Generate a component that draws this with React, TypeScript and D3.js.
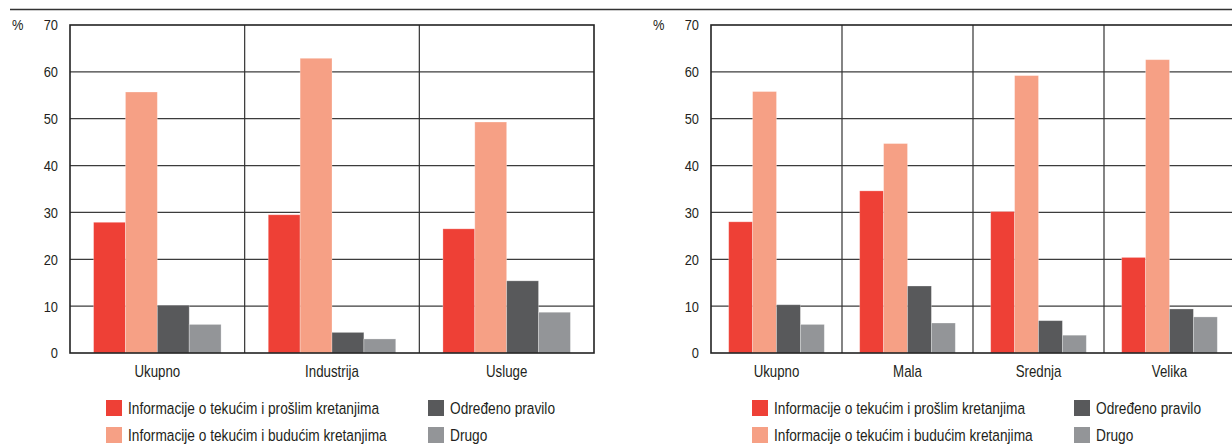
import React from "react";
import * as d3 from "d3";

// Series shown in every panel
const seriesNames = [
  "Informacije o tekućim i prošlim kretanjima",
  "Informacije o tekućim i budućim kretanjima",
  "Određeno pravilo",
  "Drugo",
];
const seriesColors = ["#EE4036", "#F6A085", "#58595B", "#939598"];

// Panel 1: by sector
const sectorCategories = ["Ukupno", "Industrija", "Usluge"];
const sectorPast = [27.9, 29.5, 26.5];
const sectorFuture = [55.7, 62.9, 49.3];
const sectorRule = [10.2, 4.4, 15.4];
const sectorOther = [6.1, 3.0, 8.7];

// Panel 2: by firm size
const sizeCategories = ["Ukupno", "Mala", "Srednja", "Velika"];
const sizePast = [28.0, 34.6, 30.2, 20.4];
const sizeFuture = [55.8, 44.7, 59.2, 62.6];
const sizeRule = [10.3, 14.3, 6.9, 9.4];
const sizeOther = [6.1, 6.4, 3.8, 7.7];

const yTicks = [0, 10, 20, 30, 40, 50, 60, 70];

const FONT = "'Liberation Sans', Arial, Helvetica, sans-serif";
const SQUEEZE = 0.83; // horizontal compression for a condensed look

type CTextProps = {
  x: number;
  y: number;
  size: number;
  anchor?: "start" | "middle" | "end";
  children: React.ReactNode;
};

// Condensed text: regular face compressed horizontally around its anchor point
function CText({ x, y, size, anchor = "start", children }: CTextProps) {
  return (
    <text
      transform={`translate(${x},${y}) scale(${SQUEEZE},1)`}
      dy="0.35em"
      textAnchor={anchor}
      fontFamily={FONT}
      fontSize={size}
      fill="#231F20"
    >
      {children}
    </text>
  );
}

type PanelProps = {
  left: number;
  groupWidth: number;
  categories: string[];
  series: number[][];
  legendX: number;
  legendCol2X: number;
};

function Panel({ left, groupWidth, categories, series, legendX, legendCol2X }: PanelProps) {
  const top = 25;
  const bottom = 353;
  const right = left + groupWidth * categories.length;
  const y = d3.scaleLinear().domain([0, 70]).range([bottom, top]);
  const x0 = d3.scaleBand<string>().domain(categories).range([left, right]).paddingInner(0).paddingOuter(0);
  const x1 = d3
    .scaleBand<number>()
    .domain(d3.range(series.length))
    .range([0, x0.bandwidth()])
    .paddingInner(0)
    .paddingOuter(0.74);

  return (
    <g>
      {/* horizontal grid */}
      {yTicks.slice(1, -1).map((t) => (
        <line key={t} x1={left} x2={right} y1={y(t)} y2={y(t)} stroke="#3c3c3c" strokeWidth={1.2} />
      ))}
      {/* group separators */}
      {categories.slice(1).map((c) => (
        <line key={c} x1={x0(c)!} x2={x0(c)!} y1={top} y2={bottom} stroke="#333" strokeWidth={1.2} />
      ))}
      {/* bars */}
      {categories.map((c, ci) => (
        <g key={c}>
          {series.map((vals, si) => (
            <rect
              key={si}
              x={x0(c)! + x1(si)!}
              y={y(vals[ci])}
              width={x1.bandwidth()}
              height={y(0) - y(vals[ci])}
              fill={seriesColors[si]}
              stroke="#ffffff"
              strokeOpacity={0.35}
              strokeWidth={0.8}
            />
          ))}
        </g>
      ))}
      {/* frame */}
      <rect x={left} y={top} width={right - left} height={bottom - top} fill="none" stroke="#222" strokeWidth={1.6} />
      {/* y ticks */}
      {yTicks.map((t) => (
        <CText key={t} x={left - 12} y={y(t)} size={15.5} anchor="end">
          {t}
        </CText>
      ))}
      <CText x={left - 58} y={y(70)} size={15.5}>
        %
      </CText>
      {/* category labels */}
      {categories.map((c) => (
        <CText key={c} x={x0(c)! + x0.bandwidth() / 2} y={371} size={16} anchor="middle">
          {c}
        </CText>
      ))}
      {/* legend */}
      {seriesNames.map((name, i) => {
        const lx = i < 2 ? legendX : legendCol2X;
        const ly = 400 + (i % 2) * 27;
        return (
          <g key={name}>
            <rect x={lx} y={ly} width={16} height={16} fill={seriesColors[i]} />
            <CText x={lx + 22} y={ly + 8} size={16.5}>
              {name}
            </CText>
          </g>
        );
      })}
    </g>
  );
}

export default function App() {
  return (
    <svg
      width={1232}
      height={446}
      style={{ position: "absolute", left: 0, top: 0, background: "#fff", overflow: "hidden" }}
    >
      <line x1={10} x2={1232} y1={9.5} y2={9.5} stroke="#333" strokeWidth={1.5} />
      <Panel
        left={70}
        groupWidth={524 / 3}
        categories={sectorCategories}
        series={[sectorPast, sectorFuture, sectorRule, sectorOther]}
        legendX={106}
        legendCol2X={428}
      />
      <Panel
        left={711}
        groupWidth={131}
        categories={sizeCategories}
        series={[sizePast, sizeFuture, sizeRule, sizeOther]}
        legendX={752}
        legendCol2X={1074}
      />
    </svg>
  );
}
